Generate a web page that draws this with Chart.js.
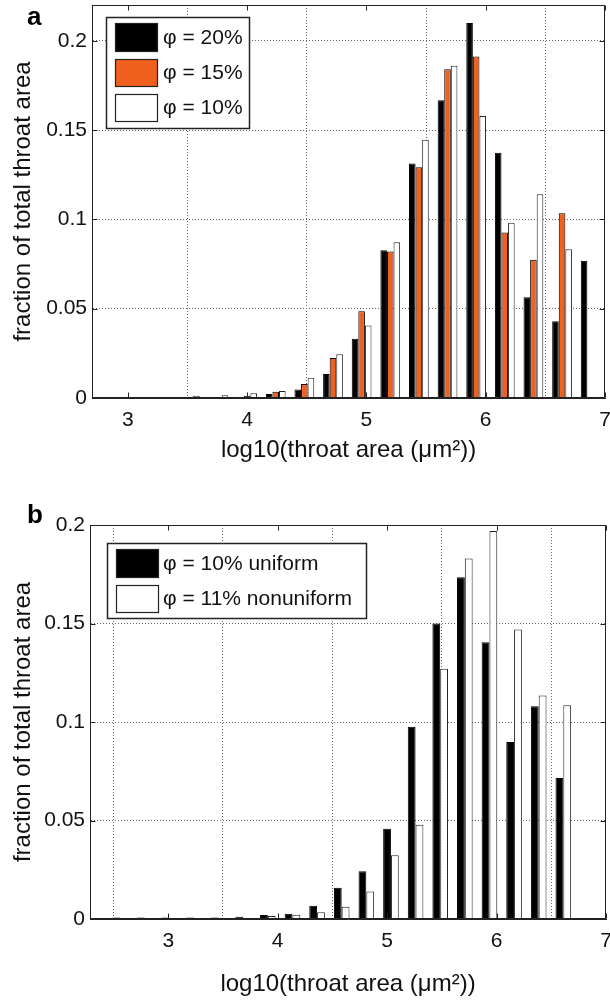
<!DOCTYPE html>
<html>
<head>
<meta charset="utf-8">
<script src="https://cdn.jsdelivr.net/npm/chart.js@4.4.0/dist/chart.umd.min.js"></script>
<style>
html, body { margin: 0; padding: 0; background: #fff; }
#wrap { position: relative; width: 610px; height: 1000px; }
.cbox { position: absolute; left: 0; width: 610px; }
#box1 { top: 0; height: 475px; }
#box2 { top: 475px; height: 525px; }
</style>
</head>
<body>
<div id="wrap">
  <div class="cbox" id="box1"><canvas id="c1"></canvas></div>
  <div class="cbox" id="box2"><canvas id="c2"></canvas></div>
</div>
<script>
// ---------- data ----------
const xTickValues = [3, 4, 5, 6, 7];
const yTickValues = [0, 0.05, 0.1, 0.15, 0.2];

// panel a: bin centres (log10 throat area) and fractions
const binCentersA = [2.80, 3.04, 3.28, 3.52, 3.76, 4.00, 4.24, 4.48, 4.72, 4.96, 5.20, 5.44, 5.68, 5.92, 6.16, 6.40, 6.64, 6.88];
const phi20 = [0.0003, 0.0004, 0.0003, 0.0003, 0.0004, 0.0005, 0.0022, 0.0048, 0.0135, 0.0332, 0.0827, 0.1313, 0.1667, 0.2099, 0.1373, 0.0564, 0.0430, 0.0768];
const phi15 = [0.0003, 0.0004, 0.0003, 0.0004, 0.0006, 0.0012, 0.0035, 0.0078, 0.0224, 0.0486, 0.0820, 0.1292, 0.1841, 0.1912, 0.0926, 0.0774, 0.1034, 0];
const phi10 = [0.0002, 0.0003, 0.0003, 0.0012, 0.0015, 0.0026, 0.0039, 0.0113, 0.0245, 0.0406, 0.0872, 0.1446, 0.1860, 0.1579, 0.0981, 0.1140, 0.0833, 0];
const labelsA = ['φ = 20%', 'φ = 15%', 'φ = 10%'];

// panel b
const binCentersB = [2.560, 2.785, 3.010, 3.235, 3.460, 3.685, 3.910, 4.135, 4.360, 4.585, 4.810, 5.035, 5.260, 5.485, 5.710, 5.935, 6.160, 6.385, 6.610];
const uniform10 = [0.0008, 0.0008, 0.0008, 0.0008, 0.0008, 0.0012, 0.0020, 0.0027, 0.0067, 0.0158, 0.0242, 0.0458, 0.0976, 0.1500, 0.1735, 0.1405, 0.0899, 0.1080, 0.0716];
const nonuniform11 = [0.0002, 0.0002, 0.0002, 0.0002, 0.0002, 0.0004, 0.0015, 0.0022, 0.0034, 0.0062, 0.0140, 0.0323, 0.0478, 0.1270, 0.1830, 0.1970, 0.1470, 0.1135, 0.1085];
const labelsB = ['φ = 10% uniform', 'φ = 11% nonuniform'];

const xTitle = 'log10(throat area (μm²))';
const yTitle = 'fraction of total throat area';

// ---------- styling ----------
const FONT = "'Liberation Sans', Arial, Helvetica, sans-serif";
const BLACK = '#000000', ORANGE = '#f0601f', WHITE = '#ffffff';

function pts(xs, ys) { return xs.map((x, i) => ({ x: x, y: ys[i] })); }

const framePlugin = {
  id: 'frame',
  afterDatasetsDraw(chart, args, opts) {
    const { ctx, chartArea: a, scales } = chart;
    const l = Math.round(a.left) + 0.5, r = Math.round(a.right) - 0.5;
    const t = Math.round(a.top) + 0.5, b = Math.round(a.bottom) - 0.5;
    ctx.save();
    ctx.strokeStyle = '#222';
    ctx.lineWidth = 1;
    ctx.setLineDash([]);
    ctx.strokeRect(l, t, r - l, b - t);
    const L = 5;
    ctx.beginPath();
    scales.x.ticks.forEach(tk => {
      const px = Math.round(scales.x.getPixelForValue(tk.value)) + 0.5;
      ctx.moveTo(px, b); ctx.lineTo(px, b - L);
      ctx.moveTo(px, t); ctx.lineTo(px, t + L);
    });
    scales.y.ticks.forEach(tk => {
      const py = Math.round(scales.y.getPixelForValue(tk.value)) + 0.5;
      ctx.moveTo(l, py); ctx.lineTo(l + L, py);
      ctx.moveTo(r, py); ctx.lineTo(r - L, py);
    });
    ctx.stroke();

    // legend box
    const lg = opts.legend;
    ctx.fillStyle = '#fff';
    ctx.fillRect(lg.box[0], lg.box[1], lg.box[2] - lg.box[0], lg.box[3] - lg.box[1]);
    ctx.strokeStyle = '#222';
    ctx.lineWidth = 1.5;
    ctx.strokeRect(lg.box[0] + 0.5, lg.box[1] + 0.5, lg.box[2] - lg.box[0], lg.box[3] - lg.box[1]);
    chart.data.datasets.forEach((ds, i) => {
      const row = lg.rows[i];
      ctx.fillStyle = ds.backgroundColor;
      ctx.fillRect(lg.swX, row[0], lg.swW, row[1]);
      ctx.strokeStyle = '#222';
      ctx.lineWidth = 1.2;
      ctx.strokeRect(lg.swX + 0.5, row[0] + 0.5, lg.swW, row[1]);
      ctx.fillStyle = '#111';
      ctx.font = lg.fontSize + 'px ' + FONT;
      ctx.textAlign = 'left';
      ctx.textBaseline = 'middle';
      ctx.fillText(ds.label, lg.textX, row[0] + row[1] / 2 + 1);
    });

    // panel letter
    const lt = opts.letter;
    ctx.fillStyle = '#000';
    ctx.font = 'bold 26px ' + FONT;
    ctx.textAlign = 'left';
    ctx.textBaseline = 'alphabetic';
    ctx.fillText(lt.text, lt.x, lt.y);
    ctx.restore();
  }
};

function makeChart(id, cfg) {
  const datasets = cfg.series.map(s => ({
    label: s.label,
    data: pts(cfg.centers, s.values),
    backgroundColor: s.color,
    borderColor: s.border,
    borderWidth: 1,
    barPercentage: 1.0,
    categoryPercentage: cfg.catPct
  }));
  return new Chart(document.getElementById(id), {
    type: 'bar',
    data: { datasets: datasets },
    plugins: [framePlugin],
    options: {
      responsive: true,
      maintainAspectRatio: false,
      animation: false,
      devicePixelRatio: 1,
      layout: { padding: { left: 0, right: cfg.padRight, top: cfg.padTop, bottom: 0 } },
      plugins: {
        legend: { display: false },
        tooltip: { enabled: false },
        frame: { legend: cfg.legend, letter: cfg.letter }
      },
      scales: {
        x: {
          type: 'linear',
          min: cfg.xMin, max: cfg.xMax,
          offset: false,
          afterBuildTicks: s => { s.ticks = xTickValues.map(v => ({ value: v })); },
          afterFit: s => { s.height = cfg.xHeight; s.paddingLeft = 0; s.paddingRight = 0; },
          grid: { display: true, color: '#666', lineWidth: 1, drawTicks: false },
          border: { display: true, color: '#222', width: 1, dash: [1, 2] },
          ticks: {
            font: { family: FONT, size: 21 }, color: '#111', padding: 10,
            maxRotation: 0, autoSkip: false, callback: v => String(v)
          },
          title: {
            display: true, text: xTitle, color: '#111',
            font: { family: FONT, size: 24 },
            padding: { top: 0, bottom: cfg.xTitlePad }
          }
        },
        y: {
          min: 0, max: cfg.yMax,
          afterBuildTicks: s => { s.ticks = yTickValues.map(v => ({ value: v })); },
          afterFit: s => { s.width = cfg.yWidth; s.paddingTop = 0; s.paddingBottom = 0; },
          grid: { display: true, color: '#666', lineWidth: 1, drawTicks: false },
          border: { display: true, color: '#222', width: 1, dash: [1, 2] },
          ticks: {
            font: { family: FONT, size: 21 }, color: '#111', padding: 5,
            autoSkip: false, callback: v => String(v)
          },
          title: {
            display: true, text: yTitle, color: '#111',
            font: { family: FONT, size: 24 },
            padding: { top: 9, bottom: 0 }
          }
        }
      }
    }
  });
}

makeChart('c1', {
  centers: binCentersA,
  series: [
    { label: labelsA[0], values: phi20, color: BLACK, border: '#000' },
    { label: labelsA[1], values: phi15, color: ORANGE, border: '#000' },
    { label: labelsA[2], values: phi10, color: WHITE, border: '#222' }
  ],
  catPct: 0.69,
  xMin: 2.70, xMax: 7, yMax: 0.22,
  padRight: 5, padTop: 5, xHeight: 77, yWidth: 92, xTitlePad: 10,
  legend: { box: [106, 17, 249, 128], swX: 115, swW: 42, rows: [[23, 28], [59, 27], [94, 27]], textX: 163, fontSize: 21 },
  letter: { text: 'a', x: 27, y: 25 }
});

makeChart('c2', {
  centers: binCentersB,
  series: [
    { label: labelsB[0], values: uniform10, color: BLACK, border: '#000' },
    { label: labelsB[1], values: nonuniform11, color: WHITE, border: '#222' }
  ],
  catPct: 0.634,
  xMin: 2.285, xMax: 7, yMax: 0.2,
  padRight: 4, padTop: 50, xHeight: 81, yWidth: 90, xTitlePad: 1,
  legend: { box: [107, 68, 366, 143], swX: 116, swW: 42, rows: [[74, 28], [110, 27]], textX: 163, fontSize: 21 },
  letter: { text: 'b', x: 27, y: 48 }
});
</script>
</body>
</html>
